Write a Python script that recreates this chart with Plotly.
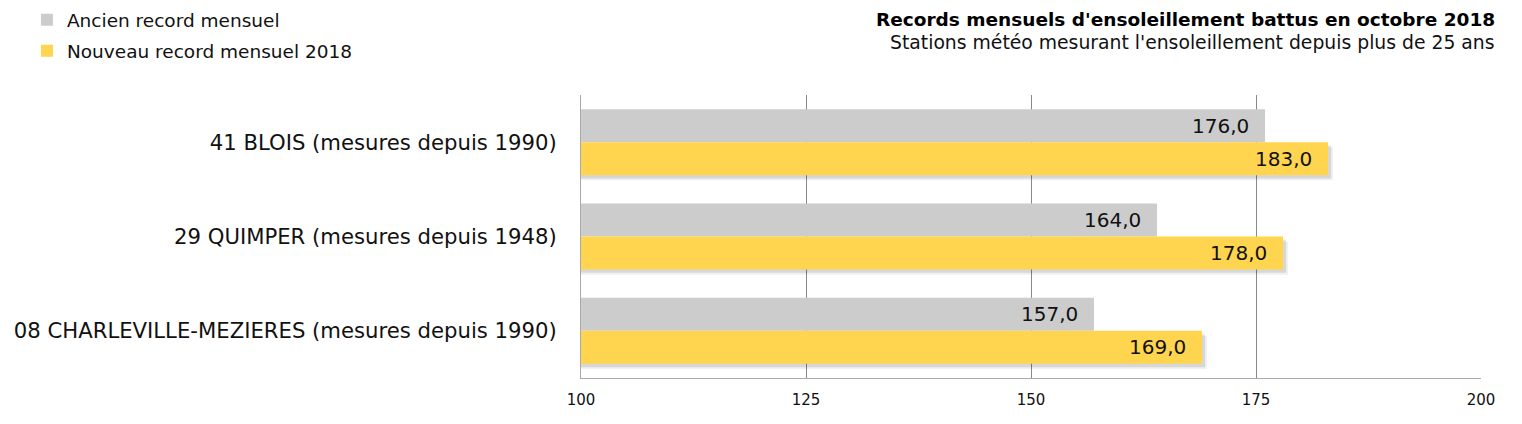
import plotly.graph_objects as go

stations = ["41 BLOIS (mesures depuis 1990)",
            "29 QUIMPER (mesures depuis 1948)",
            "08 CHARLEVILLE-MEZIERES (mesures depuis 1990)"]
ancien = [176.0, 164.0, 157.0]
nouveau = [183.0, 178.0, 169.0]
series_names = ["Ancien record mensuel", "Nouveau record mensuel 2018"]
x_ticks = [100, 125, 150, 175, 200]

FONT = "Verdana, DejaVu Sans, sans-serif"
BAR_H = 0.35
PAD = "\u00a0\u00a0"

fig = go.Figure()

# soft shadows (derived from the data, drawn beneath the bars)
for shift, alpha in [(0.55, 0.06), (0.35, 0.10)]:
    fig.add_trace(go.Bar(y=stations, x=[v + shift for v in nouveau], orientation="h",
                         width=BAR_H, offset=shift / 10, showlegend=False, hoverinfo="skip",
                         marker=dict(color=f"rgba(0,0,0,{alpha})", line=dict(width=0))))

fig.add_trace(go.Bar(y=stations, x=ancien, orientation="h", name=series_names[0],
                     width=BAR_H, offset=-BAR_H, legendgroup="a",
                     marker=dict(color="#cccccc", line=dict(width=0)),
                     texttemplate="%{x:.1f}" + PAD, textposition="inside", insidetextanchor="end",
                     textfont=dict(size=20, color="#111111", family=FONT), constraintext="none"))
fig.add_trace(go.Bar(y=stations, x=nouveau, orientation="h", name=series_names[1],
                     width=BAR_H, offset=0, legendgroup="b",
                     marker=dict(color="#ffd54f", line=dict(width=0)),
                     texttemplate="%{x:.1f}" + PAD, textposition="inside", insidetextanchor="end",
                     textfont=dict(size=20, color="#111111", family=FONT), constraintext="none"))

fig.update_layout(
    width=1522, height=424,
    margin=dict(l=581, r=41, t=95, b=46, autoexpand=False),
    paper_bgcolor="white", plot_bgcolor="white",
    separators=", ",
    barmode="overlay",
    font=dict(family=FONT, color="#111111"),
    showlegend=True,
    legend=dict(xref="container", yref="container", x=0.0177, y=0.997, xanchor="left", yanchor="top",
                orientation="v", font=dict(size=18.5, family=FONT, color="#111111"),
                itemwidth=30, tracegroupgap=4, bgcolor="rgba(0,0,0,0)"),
    xaxis=dict(range=[100, 200], tickvals=x_ticks, showgrid=True, gridcolor="#888888", gridwidth=1,
               showline=True, linecolor="#aaaaaa", linewidth=1, zeroline=False,
               tickfont=dict(size=15, family=FONT, color="#111111"), ticks="", ticklen=0,
               ticklabelstandoff=8, fixedrange=True),
    yaxis=dict(autorange="reversed", showline=True, linecolor="#aaaaaa", linewidth=1,
               tickfont=dict(size=21.2, family=FONT, color="#111111"), ticks="", ticklabelstandoff=19),
    annotations=[
        dict(xref="paper", yref="paper", x=1.0178, y=1.268, xanchor="right", yanchor="middle",
             text="<b>Records mensuels d'ensoleillement battus en octobre 2018</b>",
             showarrow=False, font=dict(size=18.5, family=FONT, color="#000000")),
        dict(xref="paper", yref="paper", x=1.0178, y=1.184, xanchor="right", yanchor="middle",
             text="Stations météo mesurant l'ensoleillement depuis plus de 25 ans",
             showarrow=False, font=dict(size=18.8, family="Tahoma, DejaVu Sans, sans-serif", color="#111111")),
    ],
)
fig.write_html("out.html", config={"displayModeBar": False},
               post_script="document.body.style.margin='0';")
